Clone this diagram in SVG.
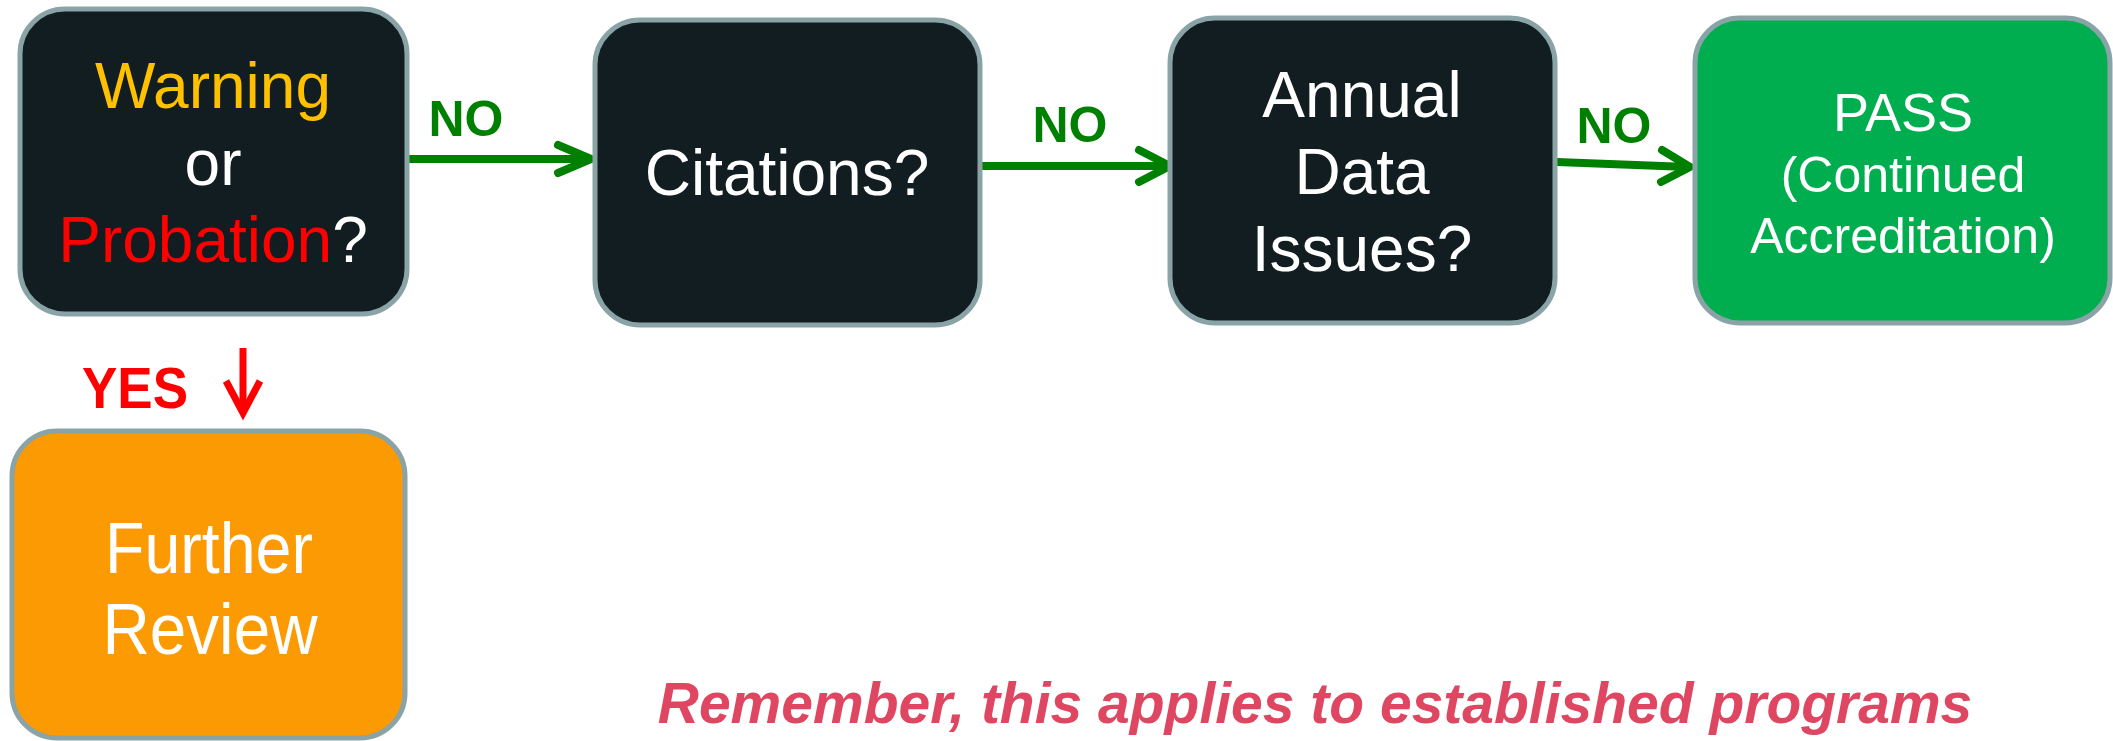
<svg xmlns="http://www.w3.org/2000/svg" width="2113" height="741" viewBox="0 0 2113 741">
<style>
.box{stroke:#8AA3A6;stroke-width:5}
.dark{fill:#111D20}
.t{font-family:"Liberation Sans",Arial,sans-serif;fill:#FFFFFF;text-anchor:middle}
.no{font-family:"Liberation Sans",Arial,sans-serif;font-weight:bold;fill:#008000;font-size:50px;text-anchor:middle}
.ga{stroke:#008000;stroke-width:8;fill:none;stroke-linecap:round;stroke-linejoin:round}
</style>
<rect width="2113" height="741" fill="#FFFFFF"/>
<g id="connectors">
  <g id="c1">
    <line class="ga" x1="406" y1="159" x2="589" y2="159"/>
    <polyline class="ga" points="558,145 591,159 558,173"/>
    <text class="no" x="466" y="136">NO</text>
  </g>
  <g id="c2">
    <line class="ga" x1="981" y1="166" x2="1168" y2="166"/>
    <polyline class="ga" points="1139,150 1170,166 1139,182"/>
    <text class="no" x="1070" y="142">NO</text>
  </g>
  <g id="c3">
    <line class="ga" x1="1557" y1="162" x2="1688" y2="167"/>
    <polyline class="ga" points="1662,150 1690,167 1661,182"/>
    <text class="no" x="1614" y="143">NO</text>
  </g>
  <g id="c4">
    <line x1="243" y1="348" x2="243" y2="412" stroke="#FF0000" stroke-width="7"/>
    <polyline points="226,381 243,413 260,381" fill="none" stroke="#FF0000" stroke-width="7" stroke-linejoin="miter"/>
    <text x="135" y="408" font-family="Liberation Sans, Arial, sans-serif" font-weight="bold" font-size="57" fill="#FF0000" text-anchor="middle" textLength="106" lengthAdjust="spacingAndGlyphs">YES</text>
  </g>
</g>
<g id="node-warning">
  <rect class="box dark" x="20" y="9" width="387" height="305" rx="45"/>
  <text class="t" font-size="64" x="213" y="108" style="fill:#FFC000">Warning</text>
  <text class="t" font-size="64" x="213" y="185">or</text>
  <text class="t" font-size="64" x="213" y="262"><tspan style="fill:#FF0000">Probation</tspan>?</text>
</g>
<g id="node-citations">
  <rect class="box dark" x="595" y="20" width="385" height="305" rx="45"/>
  <text class="t" font-size="64" x="787" y="195">Citations?</text>
</g>
<g id="node-annual">
  <rect class="box dark" x="1170" y="18" width="385" height="305" rx="45"/>
  <text class="t" font-size="64" x="1362" y="117">Annual</text>
  <text class="t" font-size="64" x="1362" y="194">Data</text>
  <text class="t" font-size="64" x="1362" y="271">Issues?</text>
</g>
<g id="node-pass">
  <rect class="box" fill="#00AE50" x="1695" y="18" width="415" height="305" rx="45"/>
  <text class="t" font-size="54" x="1903" y="131">PASS</text>
  <text class="t" font-size="50" x="1903" y="192">(Continued</text>
  <text class="t" font-size="50" x="1903" y="253">Accreditation)</text>
</g>
<g id="node-further">
  <rect class="box" fill="#FB9A03" x="12" y="431" width="393" height="307" rx="45"/>
  <text class="t" font-size="72" x="209" y="573" textLength="208" lengthAdjust="spacingAndGlyphs">Further</text>
  <text class="t" font-size="72" x="210" y="654" textLength="215" lengthAdjust="spacingAndGlyphs">Review</text>
</g>
<text x="1315" y="723" font-family="Liberation Sans, Arial, sans-serif" font-weight="bold" font-style="italic" font-size="57" fill="#DF4661" text-anchor="middle">Remember, this applies to established programs</text>
</svg>
